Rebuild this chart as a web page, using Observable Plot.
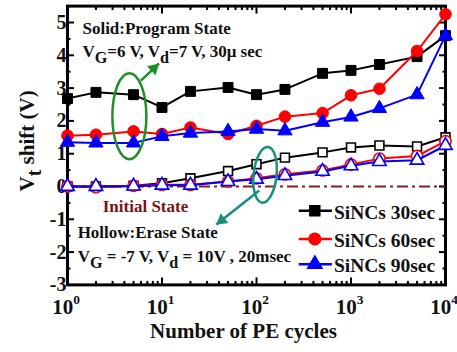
<!DOCTYPE html>
<html><head><meta charset="utf-8">
<script src="https://cdn.jsdelivr.net/npm/d3@7"></script>
<script src="https://cdn.jsdelivr.net/npm/@observablehq/plot@0.6"></script>
<style>
body{margin:0;background:#fff}
#chart svg, #chart svg text, #chart svg tspan {font-family: "Liberation Serif", "Times New Roman", serif !important;}
</style>
</head><body><div id="chart"></div>
<script>
// ---- data ----
const cycles = [1, 2, 5, 10, 20, 50, 100, 200, 500, 1000, 2000, 5000, 10000];
const prog30 = [2.68, 2.87, 2.8, 2.41, 2.9, 3.02, 2.8, 2.96, 3.45, 3.54, 3.72, 3.96, 4.6];
const prog60 = [1.55, 1.58, 1.68, 1.6, 1.8, 1.6, 1.85, 2.13, 2.24, 2.78, 2.98, 4.13, 5.25];
const prog90 = [1.35, 1.33, 1.33, 1.53, 1.63, 1.68, 1.75, 1.7, 1.96, 2.12, 2.38, 2.8, 4.6];
const erase30 = [0, 0, 0.02, 0.1, 0.25, 0.47, 0.68, 0.88, 1.04, 1.19, 1.25, 1.22, 1.5];
const erase60 = [0, -0.02, 0.02, 0.05, 0.05, 0.15, 0.25, 0.37, 0.49, 0.67, 0.85, 0.93, 1.38];
const erase90 = [0, 0, 0.01, 0.04, 0.04, 0.15, 0.22, 0.33, 0.46, 0.63, 0.76, 0.8, 1.25];
const seriesNames = ["SiNCs 30sec", "SiNCs 60sec", "SiNCs 90sec"];
const xTickValues = [1, 10, 100, 1000, 10000];
const yTickValues = [-3, -2, -1, 0, 1, 2, 3, 4, 5];

// ---- styles ----
const colors = ["#000000", "#ff0000", "#0000ff"];
const symbols = ["square", "circle", "triangle"];
const solidR = [5.6, 5.8, 5.3];
const hollowR = [5.0, 5.6, 5.0];
const FONT = "Liberation Serif, Times New Roman, serif";
const GREEN = "#1f8f2a", TEAL = "#16907f";

const program = [prog30, prog60, prog90];
const erase = [erase30, erase60, erase90];
const toRows = arr => cycles.map((c, j) => ({c, v: arr[j]}));

const xMinor = [];
for (const d of [1, 10, 100, 1000]) for (let k = 2; k < 10; k++) xMinor.push(d * k);
const yMinor = d3.range(-2.5, 5.5, 1);

const marks = [];
marks.push(Plot.frame({stroke: "black", strokeWidth: 3}));
// ticks (inward) on all four sides
for (const anchor of ["bottom", "top"]) {
  marks.push(Plot.axisX({anchor, ticks: xTickValues, tickSize: -7, tickFormat: () => "", label: null, strokeWidth: 2}));
  marks.push(Plot.axisX({anchor, ticks: xMinor, tickSize: -3.5, tickFormat: () => "", label: null, strokeWidth: 2}));
}
for (const anchor of ["left", "right"]) {
  marks.push(Plot.axisY({anchor, ticks: yTickValues, tickSize: -7, tickFormat: () => "", label: null, strokeWidth: 2}));
  marks.push(Plot.axisY({anchor, ticks: yMinor, tickSize: -3.5, tickFormat: () => "", label: null, strokeWidth: 2}));
}
// tick labels
marks.push(Plot.axisX({anchor: "bottom", ticks: xTickValues, tickSize: 0, tickPadding: 14.5, dx: -1.5,
  tickFormat: d => "10^{" + Math.round(Math.log10(d)) + "}", label: null, fontSize: 21, fontWeight: "bold", fill: "#111", fontFamily: FONT}));
marks.push(Plot.axisY({anchor: "left", ticks: yTickValues, tickSize: 0, tickPadding: 1,
  tickFormat: d => String(d), label: null, fontSize: 20, fontWeight: "bold", fill: "#111", fontFamily: FONT}));

// initial state line
marks.push(Plot.ruleY([0], {stroke: "#8b1a1a", strokeWidth: 2, strokeDasharray: "11,4,3,4"}));

// data series
for (let i = 0; i < 3; i++) {
  const rows = toRows(program[i]);
  marks.push(Plot.line(rows, {x: "c", y: "v", stroke: colors[i], strokeWidth: 2}));
  marks.push(Plot.dot(rows, {x: "c", y: "v", symbol: symbols[i], r: solidR[i], fill: colors[i], stroke: colors[i], strokeWidth: 1}));
}
for (let i = 0; i < 3; i++) {
  const rows = toRows(erase[i]);
  marks.push(Plot.line(rows, {x: "c", y: "v", stroke: colors[i], strokeWidth: 2}));
  marks.push(Plot.dot(rows, {x: "c", y: "v", symbol: symbols[i], r: hollowR[i], fill: "white", stroke: colors[i], strokeWidth: 1.6}));
}

// legend
const legendY = [-0.74, -1.6, -2.37];
for (let i = 0; i < 3; i++) {
  marks.push(Plot.link([0], {x1: () => 280, x2: () => 628, y1: () => legendY[i], y2: () => legendY[i], stroke: colors[i], strokeWidth: 2.5}));
  marks.push(Plot.dot([0], {x: () => 414, y: () => legendY[i], symbol: symbols[i], r: solidR[i], fill: colors[i], stroke: colors[i]}));
  marks.push(Plot.text([seriesNames[i]], {x: () => 659, y: () => legendY[i], text: d => d, textAnchor: "start", dy: 2, fontSize: 19.5, fontWeight: "bold", fill: "#111", fontFamily: FONT}));
}

// annotations
const notes = [
  {x: 1.44, y: 4.83, t: "Solid:Program State", c: "#111"},
  {x: 1.44, y: 4.1, t: "V_{G}=6 V, V_{d}=7 V, 30μ sec", c: "#111"},
  {x: 2.36, y: -0.6, t: "Initial State", c: "#7a1414"},
  {x: 1.28, y: -1.39, t: "Hollow:Erase State", c: "#111"},
  {x: 1.28, y: -2.15, t: "V_{G} = -7 V, V_{d} = 10V , 20msec", c: "#111"}
];
marks.push(Plot.text(notes, {x: "x", y: "y", text: "t", fill: "c", textAnchor: "start", fontSize: 17, fontWeight: "bold", fontFamily: FONT}));

// arrows: shaft + filled head
const arrows = [
  {x1: 5.98, y1: 3.23, x2: 9.3, y2: 3.75, c: GREEN, rot: 47, hdx: -5.1, hdy: 4.8},
  {x1: 107, y1: -0.12, x2: 37.5, y2: -1.16, c: TEAL, rot: 232, hdx: 5.5, hdy: -4.3}
];
for (const a of arrows) {
  marks.push(Plot.link([a], {x1: "x1", y1: "y1", x2: "x2", y2: "y2", stroke: a.c, strokeWidth: 2.5}));
  marks.push(Plot.dot([a], {x: "x2", y: "y2", symbol: "triangle", r: 4.6, rotate: a.rot, dx: a.hdx, dy: a.hdy, fill: a.c, stroke: "none"}));
}

// axis titles
marks.push(Plot.text(["V_{t} shift (V)"], {frameAnchor: "left", rotate: -90, dx: -40, dy: 46, fontSize: 21, fontWeight: "bold", fill: "#111", fontFamily: FONT}));
marks.push(Plot.text(["Number of PE cycles"], {frameAnchor: "bottom", dx: -13, dy: 53, fontSize: 21, fontWeight: "bold", fill: "#111", fontFamily: FONT}));

const chart = Plot.plot({
  width: 457, height: 352,
  marginLeft: 67, marginRight: 12, marginTop: 5.6, marginBottom: 67.6,
  x: {type: "log", domain: [1, 10000]},
  y: {domain: [-3, 5.5]},
  style: {fontFamily: FONT, background: "white", overflow: "visible"},
  marks
});
document.getElementById("chart").appendChild(chart);

// ellipses (annotation highlights)
const sx = chart.scale("x"), sy = chart.scale("y");
const ellipses = [
  {x: 4.57, y: 2.13, rx: 17, ry: 43, c: GREEN, rot: 0},
  {x: 124.7, y: 0.34, rx: 11.5, ry: 28, c: TEAL, rot: 6}
];
for (const e of ellipses) {
  const cx = sx.apply(e.x), cy = sy.apply(e.y);
  d3.select(chart).append("ellipse")
    .attr("cx", cx).attr("cy", cy)
    .attr("rx", e.rx).attr("ry", e.ry)
    .attr("transform", `rotate(${e.rot},${cx},${cy})`)
    .attr("fill", "none").attr("stroke", e.c).attr("stroke-width", 2.5);
}

// sub/superscripts
d3.select(chart).selectAll("text").each(function () {
  const el = this;
  const s = el.textContent;
  if (!/[_^]\{/.test(s)) return;
  const fs = parseFloat(getComputedStyle(el).fontSize) || 16;
  const parts = s.split(/([_^]\{[^}]*\})/).filter(p => p);
  while (el.firstChild) el.removeChild(el.firstChild);
  let shift = 0;
  for (const p of parts) {
    const m = p.match(/^([_^])\{([^}]*)\}$/);
    const t = document.createElementNS("http://www.w3.org/2000/svg", "tspan");
    if (m) {
      const off = m[1] === "_" ? 0.32 * fs : -0.47 * fs;
      t.setAttribute("dy", off - shift);
      t.setAttribute("font-size", m[1] === "_" ? fs * 0.95 : fs * 0.64);
      t.textContent = m[2];
      shift = off;
    } else {
      t.setAttribute("dy", -shift);
      t.textContent = p;
      shift = 0;
    }
    el.appendChild(t);
  }
});
</script>
</body></html>
